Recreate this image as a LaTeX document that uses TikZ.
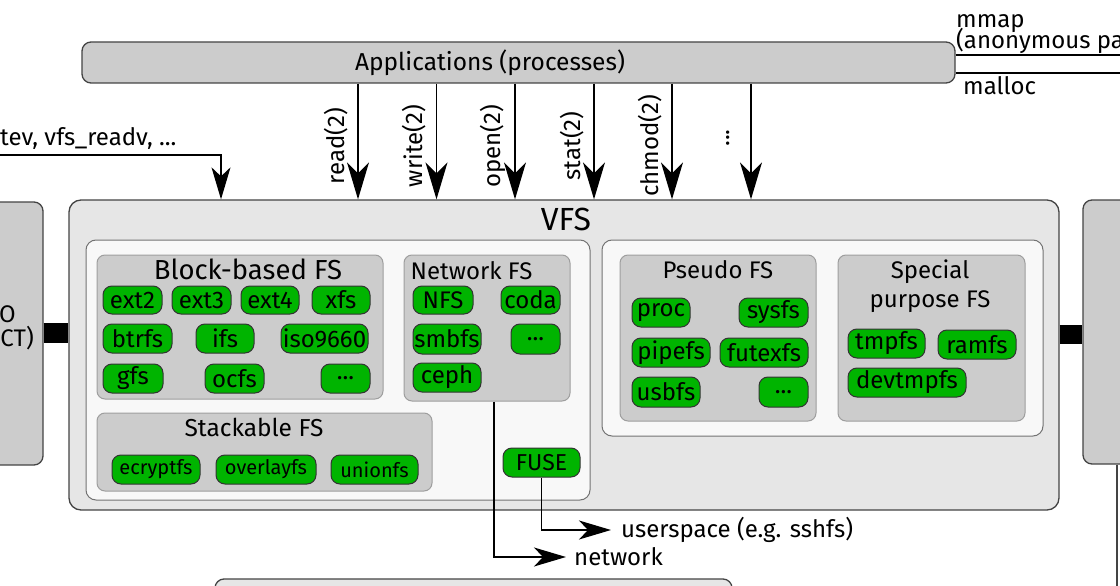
\documentclass[tikz,border=0pt]{standalone}
\usepackage{fontspec}
\setmainfont{Fira Sans}
\usetikzlibrary{arrows.meta}
\definecolor{gA}{HTML}{CCCCCC}
\definecolor{gV}{HTML}{E6E6E6}
\definecolor{gW}{HTML}{F8F8F8}
\definecolor{fsgreen}{HTML}{00B400}
\definecolor{edge}{HTML}{444444}
\newcommand\fsz[1]{\fontsize{#1}{#1}\selectfont}
\newcommand\mkbox[6]{\node[#6, minimum width={#4-#2}, minimum height={#5-#3}] (#1) at ({(#2+#4)/2},{(#3+#5)/2}) {};}
\newcommand\mkfs[6]{\node[fsnode, minimum width={#4-#2}, minimum height={#5-#3}] (#1) at ({(#2+#4)/2},{(#3+#5)/2}) {#6};}
\begin{document}
\begin{tikzpicture}[x=1pt,y=-1pt,
  mainbox/.style={draw=edge, line width=1.3pt, rounded corners=12pt, inner sep=0pt},
  catbox/.style={draw=black!38, fill=gA, line width=1pt, rounded corners=8pt, inner sep=0pt},
  whitebox/.style={draw=black!55, fill=gW, line width=1pt, rounded corners=10pt, inner sep=0pt},
  fsnode/.style={draw=black!80, fill=fsgreen, line width=1pt, rounded corners=9pt, inner sep=0pt, font=\fsz{24}},
  lbl/.style={inner sep=0pt, font=\fsz{24}},
  arrS/.style={-{Stealth[length=32pt,width=19pt,inset=9pt]}, line width=1.3pt},
  arrB/.style={-{Stealth[length=37pt,width=22pt,inset=11pt]}, line width=1.5pt},
  wire/.style={line width=1.3pt}]
\useasboundingbox (0,0) rectangle (1120,586);
% big boxes
\mkbox{apps}{82}{42}{955}{83}{mainbox, fill=gA, rounded corners=9pt}
\node[lbl, font=\fsz{24.5}] (appst) at (490,63) {Applications (processes)};
\mkbox{vfs}{69}{200}{1059}{510}{mainbox, fill=gV}
\node[lbl, font=\fsz{32}] (vfst) at (566,219) {VFS};
\mkbox{leftb}{-60}{202}{43}{465}{mainbox, fill=gA, rounded corners=9pt}
\mkbox{rightb}{1083}{200}{1170}{464}{mainbox, fill=gA, rounded corners=9pt}
\mkbox{botb}{215}{579}{732}{640}{mainbox, fill=gV, rounded corners=9pt}
\node[lbl, anchor=base east] (ltxt1) at (16,322) {O};
\node[lbl, anchor=base east] (ltxt2) at (34,346) {CT)};
% thick connectors
\coordinate (yc1) at (0,333);
\coordinate (yc2) at (0,334.5);
\draw[line width=20pt] (leftb.east |- yc1) -- (vfs.west |- yc1);
\draw[line width=19pt] (vfs.east |- yc2) -- (rightb.west |- yc2);
\coordinate (rdown) at (1117,600);
\draw[wire, edge] (rdown |- rightb.south) -- (rdown);
% inner white boxes
\mkbox{wl}{86}{240}{590}{500}{whitebox}
\mkbox{wr}{602}{240}{1043}{436}{whitebox}
% category boxes
\mkbox{block}{97}{255}{383}{399}{catbox}
\mkbox{netfs}{404}{255}{570}{401}{catbox}
\mkbox{stack}{97}{413}{432}{491}{catbox}
\mkbox{pseudo}{620}{255}{816}{421}{catbox}
\mkbox{special}{838}{255}{1025}{421}{catbox}
\node[lbl, font=\fsz{27.5}] (blockt) at (248,269) {Block-based FS};
\node[lbl] (netfst) at (471.5,271) {Network FS};
\node[lbl, font=\fsz{24.5}] (stackt) at (254,427) {Stackable FS};
\node[lbl] (pseudot) at (718,269.5) {Pseudo FS};
\node[lbl, align=center, font=\fontsize{24}{29}\selectfont] (specialt) at (930,286) {Special\\purpose FS};
% block-based
\mkfs{ext2}{103}{286}{162}{314}{ext2}
\mkfs{ext3}{172}{286}{231}{314}{ext3}
\mkfs{ext4}{241}{286}{299}{314}{ext4}
\mkfs{xfs}{312}{286}{370}{314}{xfs}
\mkfs{btrfs}{103}{324}{172}{353}{btrfs}
\mkfs{ifs}{196}{324}{254}{353}{ifs}
\mkfs{iso}{281}{324}{368}{353}{iso9660}
\mkfs{gfs}{103}{364}{163}{393}{gfs}
\mkfs{ocfs}{205}{364}{264}{393}{ocfs}
\mkfs{bmore}{321}{364}{370}{393}{...}
% network
\mkfs{nfs}{413}{286}{473}{314}{NFS}
\mkfs{coda}{501}{286}{560}{314}{coda}
\mkfs{smbfs}{413}{324}{481}{354}{smbfs}
\mkfs{nmore}{511}{324}{560}{354}{...}
\mkfs{ceph}{413}{363}{481}{392}{ceph}
% stackable
\mkfs{ecrypt}{112}{455}{200}{484}{\fsz{20}ecryptfs}
\mkfs{overlay}{216}{455}{316}{484}{\fsz{20}overlayfs}
\mkfs{union}{331}{455}{418}{484}{\fsz{20}unionfs}
\mkfs{fuse}{503}{448}{580}{477}{\fsz{23}FUSE}
% pseudo
\mkfs{proc}{632}{298}{690}{327}{proc}
\mkfs{sysfs}{739}{298}{808}{327}{sysfs}
\mkfs{pipefs}{632}{338}{710}{367}{pipefs}
\mkfs{futexfs}{720}{338}{808}{367}{futexfs}
\mkfs{usbfs}{632}{377}{700}{407}{usbfs}
\mkfs{pmore}{759}{377}{808}{407}{...}
% special
\mkfs{tmpfs}{848}{329}{925}{358}{tmpfs}
\mkfs{ramfs}{938}{330}{1016}{359}{ramfs}
\mkfs{devtmpfs}{848}{368}{966}{397}{devtmpfs}
% syscall arrows
\foreach \n/\x/\t in {r/358/read(2), w/436.5/write(2), o/515/open(2), s/594/stat(2), c/672/chmod(2)}{
  \coordinate (x\n) at (\x,0);
  \draw[arrB] (x\n |- apps.south) -- (x\n |- vfs.north);
  \node[lbl, rotate=90] (l\n) at (\x-22,146) {\t};
}
\coordinate (xd) at (751,0);
\draw[arrB] (xd |- apps.south) -- (xd |- vfs.north);
\node[lbl, rotate=90] (ld) at (728,138) {...};
% left arrow
\node[lbl, anchor=base west] (lintext) at (0,145) {tev, vfs\_readv, ...};
\coordinate (lin) at (0,155);
\coordinate (xl) at (221,0);
\draw[arrS] (lin) -| (xl |- vfs.north);
% mmap / malloc
\node[lbl, anchor=base west] (mmapt) at (956,28) {mmap};
\node[lbl, anchor=base west] (anont) at (956,49) {(anonymous pa};
\node[lbl, anchor=base west] (malloct) at (963,95) {malloc};
\coordinate (e1) at (1120,55);
\coordinate (e2) at (1120,73);
\draw[wire] (apps.east |- e1) -- (e1);
\draw[wire] (apps.east |- e2) -- (e2);
% network and fuse
\node[lbl, anchor=west] (netlbl) at (574,557) {network};
\node[lbl, anchor=west] (userlbl) at (621,530) {userspace (e.g. sshfs)};
\coordinate (xn) at (494,0);
\draw[arrS, shorten >=8pt] (xn |- netfs.south) |- (netlbl.west);
\draw[arrS, shorten >=10pt] (fuse.south) |- (userlbl.west);
\end{tikzpicture}
\end{document}
